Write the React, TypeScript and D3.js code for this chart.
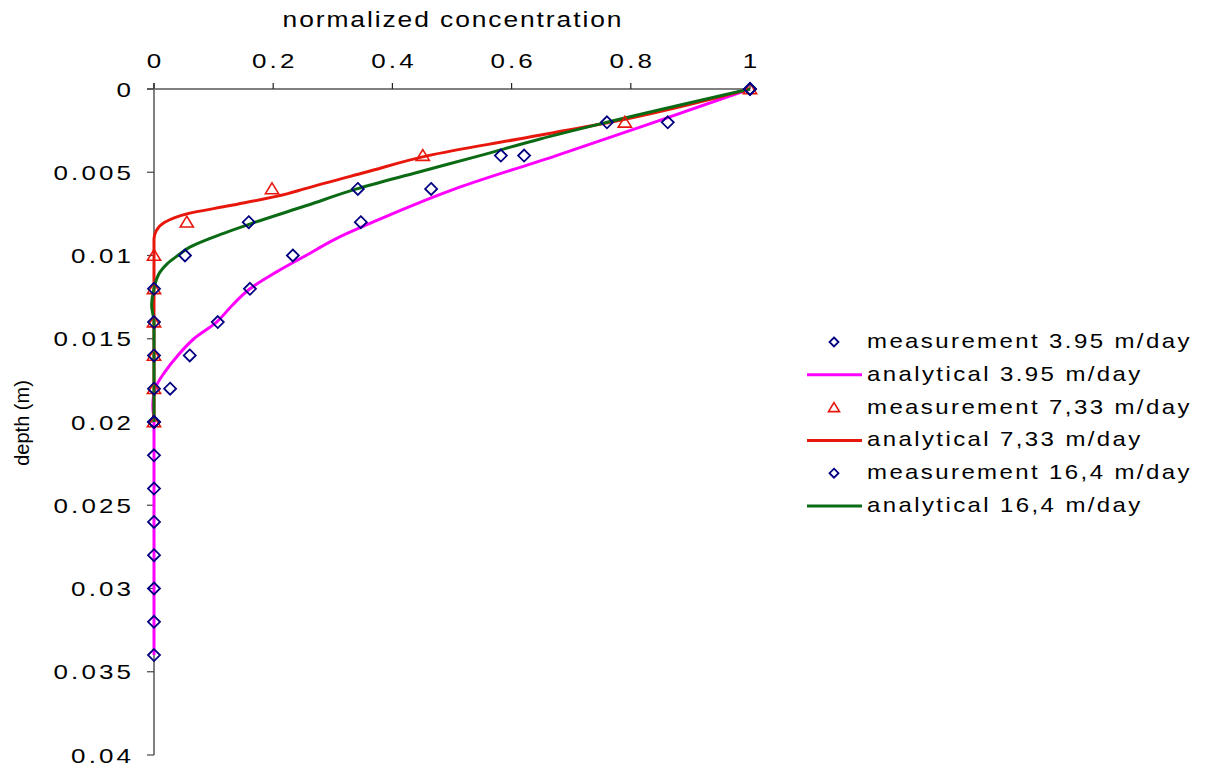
import React from "react";
import * as d3 from "d3";

// measurement depths (m)
const measDepth395 = [0, 0.002, 0.004, 0.006, 0.008, 0.01, 0.012, 0.014, 0.016, 0.018, 0.02, 0.022, 0.024, 0.026, 0.028, 0.03, 0.032, 0.034];
const meas395 = [1, 0.862, 0.621, 0.465, 0.347, 0.233, 0.161, 0.107, 0.06, 0.027, 0, 0, 0, 0, 0, 0, 0, 0];
const measDepth733 = [0, 0.002, 0.004, 0.006, 0.008, 0.01, 0.012, 0.014, 0.016, 0.018, 0.02];
const meas733 = [1, 0.79, 0.451, 0.198, 0.055, 0, 0, 0, 0, 0, 0];
const measDepth164 = [0, 0.002, 0.004, 0.006, 0.008, 0.01, 0.012, 0.014, 0.016, 0.018, 0.02];
const meas164 = [1, 0.76, 0.582, 0.342, 0.159, 0.052, 0, 0, 0, 0, 0];

// analytical curves
const anaDepth395 = [0, 0.002, 0.004, 0.006, 0.007, 0.008, 0.009, 0.01, 0.011, 0.012, 0.013, 0.014, 0.015, 0.016, 0.017, 0.018, 0.019, 0.02, 0.034];
const ana395 = [1, 0.839, 0.675, 0.505, 0.433, 0.367, 0.305, 0.255, 0.205, 0.161, 0.131, 0.105, 0.067, 0.04, 0.018, 0.002, -0.002, 0, 0];
const anaDepth733 = [0, 0.002, 0.003, 0.004, 0.005, 0.006, 0.0063, 0.007, 0.0075, 0.008, 0.0085, 0.009, 0.02];
const ana733 = [1, 0.765, 0.612, 0.46, 0.355, 0.252, 0.223, 0.128, 0.055, 0.018, 0.004, 0, 0];
const anaDepth164 = [0, 0.002, 0.003, 0.004, 0.005, 0.006, 0.007, 0.008, 0.009, 0.0095, 0.01, 0.0105, 0.011, 0.012, 0.013, 0.014, 0.02];
const ana164 = [1, 0.76, 0.648, 0.547, 0.443, 0.34, 0.256, 0.17, 0.092, 0.06, 0.04, 0.022, 0.01, 0, -0.004, 0, 0];

const xTicks = [0, 0.2, 0.4, 0.6, 0.8, 1];
const xTickLabels = ["0", "0.2", "0.4", "0.6", "0.8", "1"];
const yTicks = [0, 0.005, 0.01, 0.015, 0.02, 0.025, 0.03, 0.035, 0.04];
const yTickLabels = ["0", "0.005", "0.01", "0.015", "0.02", "0.025", "0.03", "0.035", "0.04"];

const legendLabels = [
  "measurement 3.95 m/day",
  "analytical 3.95 m/day",
  "measurement 7,33 m/day",
  "analytical 7,33 m/day",
  "measurement 16,4 m/day",
  "analytical 16,4 m/day",
];

const PINK = "#ff00ff";
const RED = "#e8170c";
const GREEN = "#0b6b14";
const NAVY = "#000080";
const FONT = "'Liberation Sans', Arial, sans-serif";

const x = d3.scaleLinear().domain([0, 1]).range([154, 750]);
const y = d3.scaleLinear().domain([0, 0.04]).range([89, 755]);

function linePath(depths: number[], vals: number[]) {
  const pts = depths.map((d, i) => [vals[i], d] as [number, number]);
  return d3
    .line<[number, number]>()
    .x((p) => x(p[0]))
    .y((p) => y(p[1]))
    .curve(d3.curveMonotoneY)(pts) as string;
}

function Diamond({ cx, cy, r }: { cx: number; cy: number; r: number }) {
  return (
    <path
      d={`M${cx},${cy - r}L${cx + r},${cy}L${cx},${cy + r}L${cx - r},${cy}Z`}
      fill="none"
      stroke={NAVY}
      strokeWidth={1.8}
    />
  );
}

function Triangle({ cx, cy, r }: { cx: number; cy: number; r: number }) {
  return (
    <path
      d={`M${cx},${cy - r}L${cx + r * 1.1},${cy + r * 0.8}L${cx - r * 1.1},${cy + r * 0.8}Z`}
      fill="none"
      stroke={RED}
      strokeWidth={1.6}
    />
  );
}

function WideText({
  tx,
  ty,
  sx,
  size,
  ls,
  anchor,
  children,
}: {
  tx: number;
  ty: number;
  sx: number;
  size: number;
  ls: number;
  anchor: string;
  children: React.ReactNode;
}) {
  const shift = anchor === "end" ? ls : anchor === "middle" ? ls / 2 : 0;
  return (
    <text
      transform={`translate(${tx},${ty}) scale(${sx},1)`}
      x={shift}
      textAnchor={anchor}
      fontFamily={FONT}
      fontSize={size}
      letterSpacing={ls}
      fill="#000"
    >
      {children}
    </text>
  );
}

export default function App() {
  const legendY0 = 342;
  const legendStep = 32.8;
  return (
    <svg
      width={1210}
      height={767}
      style={{ position: "absolute", left: 0, top: 0, background: "#fff" }}
    >
      <rect x={0} y={0} width={1210} height={767} fill="#fff" />
      {/* axes */}
      <line x1={147} x2={x(1)} y1={y(0)} y2={y(0)} stroke="#808080" strokeWidth={2} />
      <line x1={x(0)} x2={x(0)} y1={y(0) - 6} y2={y(0.04)} stroke="#808080" strokeWidth={2} />
      {xTicks.map((t, i) => (
        <g key={"xt" + i}>
          <line x1={x(t)} x2={x(t)} y1={y(0)} y2={y(0) - 6} stroke="#222" strokeWidth={1.2} />
          <WideText tx={x(t)} ty={68} sx={1.3} size={20} ls={2.4} anchor="middle">
            {xTickLabels[i]}
          </WideText>
        </g>
      ))}
      {yTicks.map((t, i) => (
        <g key={"yt" + i}>
          <line x1={x(0) - 7} x2={x(0)} y1={y(t)} y2={y(t)} stroke="#444" strokeWidth={1.2} />
          <WideText tx={131} ty={y(t) + 7.5} sx={1.3} size={20} ls={2.4} anchor="end">
            {yTickLabels[i]}
          </WideText>
        </g>
      ))}
      <WideText tx={452} ty={27} sx={1.2} size={22} ls={1.6} anchor="middle">
        normalized concentration
      </WideText>
      <text
        transform="translate(29,423) rotate(-90)"
        textAnchor="middle"
        fontFamily={FONT}
        fontSize={20}
        fill="#000"
      >
        depth (m)
      </text>

      {/* analytical lines */}
      <path d={linePath(anaDepth395, ana395)} fill="none" stroke={PINK} strokeWidth={3} />
      <path d={linePath(anaDepth733, ana733)} fill="none" stroke={RED} strokeWidth={3} />
      <path d={linePath(anaDepth164, ana164)} fill="none" stroke={GREEN} strokeWidth={3} />

      {/* measurements */}
      {meas733.map((v, i) => (
        <Triangle key={"m733" + i} cx={x(v)} cy={y(measDepth733[i])} r={6} />
      ))}
      {meas395.map((v, i) => (
        <Diamond key={"m395" + i} cx={x(v)} cy={y(measDepth395[i])} r={6} />
      ))}
      {meas164.map((v, i) => (
        <Diamond key={"m164" + i} cx={x(v)} cy={y(measDepth164[i])} r={6} />
      ))}

      {/* legend */}
      {legendLabels.map((lab, i) => {
        const ly = legendY0 + i * legendStep;
        let sym: React.ReactNode = null;
        if (i === 0 || i === 4) sym = <Diamond cx={834} cy={ly} r={4.5} />;
        else if (i === 2) sym = <Triangle cx={834} cy={ly} r={5} />;
        else {
          const c = i === 1 ? PINK : i === 3 ? RED : GREEN;
          sym = <line x1={807} x2={862} y1={ly} y2={ly} stroke={c} strokeWidth={3} />;
        }
        return (
          <g key={"lg" + i}>
            {sym}
            <WideText tx={867} ty={ly + 6} sx={1.2} size={20} ls={2} anchor="start">
              {lab}
            </WideText>
          </g>
        );
      })}
    </svg>
  );
}
